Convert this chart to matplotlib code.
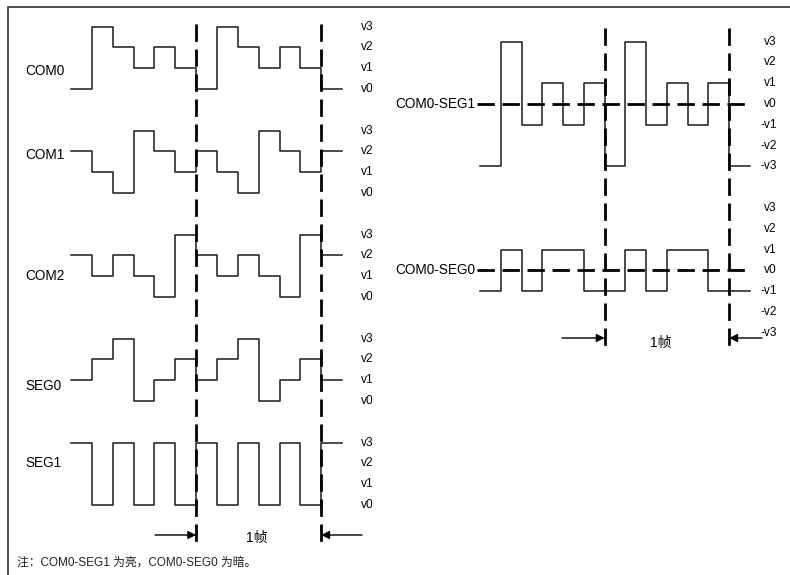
import matplotlib
matplotlib.use('Agg')
import matplotlib.pyplot as plt
import numpy as np

plt.rcParams['font.family'] = ['Liberation Sans', 'Noto Sans CJK SC', 'DejaVu Sans']
plt.rcParams['lines.scale_dashes'] = False

# ---------------- data (levels per time slot, 13 slots) ----------------
left_names = ['COM0', 'COM1', 'COM2', 'SEG0', 'SEG1']
com0 = [0, 3, 2, 1, 2, 1, 0, 3, 2, 1, 2, 1, 0]
com1 = [2, 1, 0, 3, 2, 1, 2, 1, 0, 3, 2, 1, 2]
com2 = [2, 1, 2, 1, 0, 3, 2, 1, 2, 1, 0, 3, 2]
seg0 = [1, 2, 3, 0, 1, 2, 1, 2, 3, 0, 1, 2, 1]
seg1 = [3, 0, 3, 0, 3, 0, 3, 0, 3, 0, 3, 0, 3]
left_waves = [com0, com1, com2, seg0, seg1]
left_levels = ['v0', 'v1', 'v2', 'v3']
left_name_level = [0.85, 1.85, 1.0, 0.7, 2.0]

right_names = ['COM0-SEG1', 'COM0-SEG0']
com0_seg1 = [-3, 3, -1, 1, -1, 1, -3, 3, -1, 1, -1, 1, -3]
com0_seg0 = [-1, 1, -1, 1, 1, -1, -1, 1, -1, 1, 1, -1, -1]
right_waves = [com0_seg1, com0_seg0]
right_levels = ['-v3', '-v2', '-v1', 'v0', 'v1', 'v2', 'v3']
right_level_values = [-3, -2, -1, 0, 1, 2, 3]

frame_edges = [6, 12]
frame_label = '1帧'
note = '注：COM0-SEG1 为亮，COM0-SEG0 为暗。'

# ---------------- layout ----------------
W, H = 790, 575
fig = plt.figure(figsize=(W / 100, H / 100), dpi=100)
DASH = (0, (12.5, 5.5))
WAVE_C = '#1a1a1a'
LVL_FS = 8.6
NAME_FS = 9.8


def make_axes(x0, y0, ux, uy):
    ax = fig.add_axes([0, 0, 1, 1])
    ax.set_xlim(-x0 / ux, (W - x0) / ux)
    ax.set_ylim((y0 - H) / uy, y0 / uy)
    ax.axis('off')
    ax.patch.set_alpha(0)
    px2x = lambda p: (p - x0) / ux
    px2y = lambda p: (y0 - p) / uy
    return ax, px2x, px2y


# background: frame + note
bg = fig.add_axes([0, 0, 1, 1])
bg.set_xlim(0, W)
bg.set_ylim(H, 0)
bg.axis('off')
bg.plot([8, 8, W], [H, 7, 7], color='#404040', lw=1.3, solid_capstyle='butt')
bg.text(17, 563, note, fontsize=8.5, va='center', ha='left', color='#222222')

# ---------------- left panel ----------------
axL, lx, ly = make_axes(71, 89, 20.85, 20.8)
SP = 5
for k, (name, vals) in enumerate(zip(left_names, left_waves)):
    off = -SP * k
    x = np.arange(len(vals) + 1)
    y = np.array(list(vals) + [vals[-1]]) + off
    axL.step(x, y, where='post', color=WAVE_C, lw=1.1)
    for lv, lab in enumerate(left_levels):
        axL.text(lx(361), lv + off, lab, fontsize=LVL_FS, va='center', ha='left')
    axL.text(lx(25), left_name_level[k] + off, name, fontsize=NAME_FS, va='center', ha='left')

for e in frame_edges:
    axL.plot([e, e], [ly(24), ly(548)], color='black', lw=2.0, linestyle=DASH)

ya = ly(535)
axL.annotate('', xy=(frame_edges[0], ya), xytext=(lx(155), ya),
             arrowprops=dict(arrowstyle='-|>', color='black', lw=1.0,
                             mutation_scale=12, shrinkA=0, shrinkB=0))
axL.annotate('', xy=(frame_edges[1], ya), xytext=(lx(362), ya),
             arrowprops=dict(arrowstyle='-|>', color='black', lw=1.0,
                             mutation_scale=12, shrinkA=0, shrinkB=0))
axL.text(lx(257), ly(538), frame_label, fontsize=10, ha='center', va='center')

# ---------------- right panel ----------------
axR, rx, ry = make_axes(480, 104, 20.77, 20.8)
SPR = 8
for k, (name, vals) in enumerate(zip(right_names, right_waves)):
    off = -SPR * k
    x = np.arange(len(vals) + 1)
    y = np.array(list(vals) + [vals[-1]]) + off
    axR.step(x, y, where='post', color=WAVE_C, lw=1.1)
    axR.plot([rx(477), len(vals)], [off, off], color='black', lw=2.0, linestyle=DASH)
    for lv, lab in zip(right_level_values, right_levels):
        axR.text(rx(777), lv + off, lab, fontsize=LVL_FS, va='center', ha='right')
    axR.text(rx(475), off, name, fontsize=NAME_FS, va='center', ha='right')

for e in frame_edges:
    axR.plot([e, e], [ry(28), ry(352)], color='black', lw=2.0, linestyle=DASH)

ya = ry(338)
axR.annotate('', xy=(frame_edges[0], ya), xytext=(rx(562), ya),
             arrowprops=dict(arrowstyle='-|>', color='black', lw=1.0,
                             mutation_scale=12, shrinkA=0, shrinkB=0))
axR.annotate('', xy=(frame_edges[1], ya), xytext=(rx(762), ya),
             arrowprops=dict(arrowstyle='-|>', color='black', lw=1.0,
                             mutation_scale=12, shrinkA=0, shrinkB=0))
axR.text(rx(661), ry(343), frame_label, fontsize=10, ha='center', va='center')

fig.savefig('out.png', dpi=100)
